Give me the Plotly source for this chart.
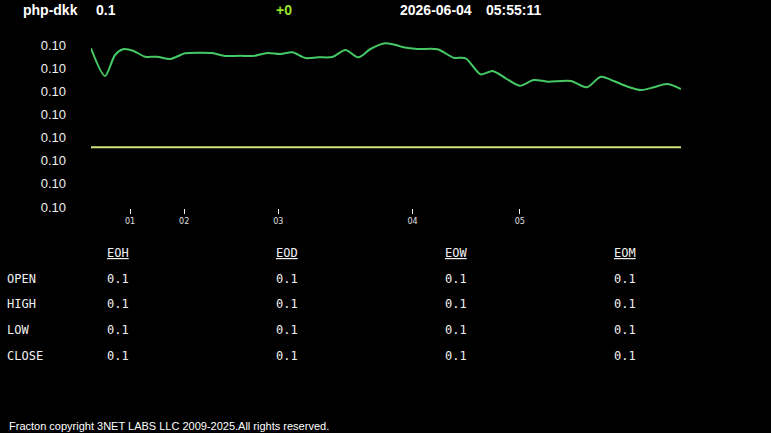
import plotly.graph_objects as go

# ---- data ----
symbol = "php-dkk"
last_price = "0.1"
change = "+0"
date_str = "2026-06-04"
time_str = "05:55:11"

# time position (arbitrary units along the x axis) and price values
t = [0, 14, 24, 32, 42, 54, 66, 79, 94, 109, 121, 134, 149, 162, 176, 189, 201,
     214, 227, 241, 254, 267, 279, 294, 306, 312, 326, 346, 362, 374, 389, 401,
     414, 428, 442, 456, 479, 495, 509, 522, 536, 549, 562, 575, 589]
price_px = [48.3, 76, 55, 49.3, 50.7, 56.7, 56.7, 59, 53.3, 52.7, 53, 56, 55.7, 56, 53, 54, 52.3,
            58, 57.3, 57, 50, 57.3, 49, 43.3, 45.5, 47.3, 49, 49.3, 57.7, 58.3, 74.3, 71,
            78.3, 85.7, 80, 81.7, 81, 87.3, 76.7, 81, 86.7, 90, 87.3, 84, 89]
ref_level_px = 147.3

y_ticks = [0.1030, 0.1025, 0.1020, 0.1015, 0.1010, 0.1005, 0.1000, 0.0995]
y_ticktext = ["0.10"] * 8
x_tickvals = [39, 93, 187, 321, 428]
x_ticktext = ["01", "02", "03", "04", "05"]

table_cols = ["EOH", "EOD", "EOW", "EOM"]
table_rows = ["OPEN", "HIGH", "LOW", "CLOSE"]
table_vals = [["0.1"] * 4 for _ in range(4)]

footer = "Fracton copyright 3NET LABS LLC 2009-2025.All rights reserved."

# convert the pixel readings to price units (tick 0.1030 at px 45, 0.0995 at px 207)
scale = (207 - 45) / (0.1030 - 0.0995)
def px_to_val(p):
    return 0.1030 - (p - 45) / scale

price = [px_to_val(p) for p in price_px]
ref_level = px_to_val(ref_level_px)

W, H = 771, 433
plot_top, plot_bot = 40, 208
fig = go.Figure()
fig.add_trace(go.Scatter(x=t, y=price, mode="lines",
                         line=dict(color="#44c965", width=2, shape="spline", smoothing=0.8),
                         hoverinfo="skip"))
fig.add_trace(go.Scatter(x=[t[0], t[-1]], y=[ref_level, ref_level], mode="lines",
                         line=dict(color="#d2e27a", width=2), hoverinfo="skip"))

fig.update_layout(
    width=W, height=H, showlegend=False,
    paper_bgcolor="black", plot_bgcolor="black",
    margin=dict(l=91, r=W - 681, t=plot_top, b=H - plot_bot, pad=0),
    xaxis=dict(range=[t[0], t[-1]], showgrid=False, zeroline=False, showline=False,
               tickvals=x_tickvals, ticktext=x_ticktext, ticks="outside", ticklen=5,
               tickcolor="#ffffff", tickwidth=1,
               tickfont=dict(family="DejaVu Sans", size=8, color="#e0e0e0")),
    yaxis=dict(range=[px_to_val(plot_bot), px_to_val(plot_top)], showgrid=False, zeroline=False,
               showline=False, tickvals=y_ticks, ticktext=y_ticktext, ticks="",
               ticklabelstandoff=24,
               tickfont=dict(family="Liberation Sans, Arial", size=13, color="#f0f0f0")),
)

header = []
def add(x, y, s, size=12, color="white", bold=False, family="Liberation Sans, Arial", underline=False):
    if underline:
        s = "<u>" + s + "</u>"
    if bold:
        s = "<b>" + s + "</b>"
    pw = W - 91 - (W - 681)
    ph = plot_bot - plot_top
    header.append(dict(x=(x - 91) / pw, y=(plot_bot - y) / ph, xref="paper", yref="paper",
                       text=s, showarrow=False, xanchor="left", yanchor="middle",
                       font=dict(size=size, color=color, family=family)))

add(21, 10, symbol, size=14, bold=True)
add(94, 10, last_price, size=14, bold=True)
add(274, 10, change, size=14, bold=True, color="#9be224")
add(398, 10, date_str, size=14, bold=True)
add(484, 10, time_str, size=14, bold=True)

mono = "DejaVu Sans Mono"
col_x = [105, 274, 443, 612]
row_y = [279, 304, 330, 356]
for cx, name in zip(col_x, table_cols):
    add(cx, 253, name, size=12, family=mono, underline=True, color="#f0f0f0")
for ry, rname in zip(row_y, table_rows):
    add(5, ry, rname, size=12, family=mono, color="#f0f0f0")
for ci, cx in enumerate(col_x):
    for ri, ry in enumerate(row_y):
        add(cx, ry, table_vals[ri][ci], size=12, family=mono, color="#f0f0f0")

add(7, 426, footer, size=11, family="Liberation Sans, Arial")

fig.update_layout(annotations=header)
fig.write_html("out.html")
